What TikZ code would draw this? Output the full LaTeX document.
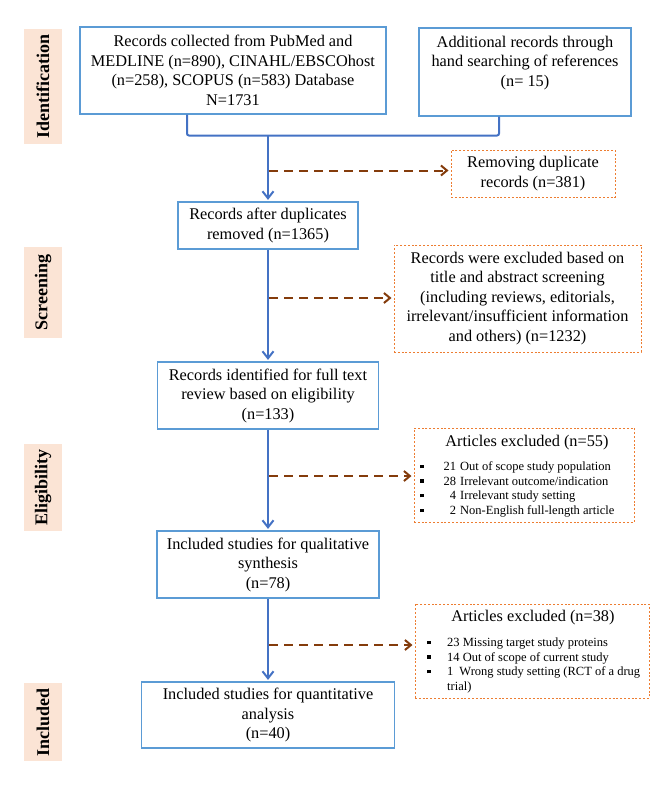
\documentclass[tikz,border=0pt]{standalone}
\usepackage{fontspec}
\setmainfont{Liberation Serif}
\usetikzlibrary{arrows.meta}
\definecolor{boxblue}{HTML}{5B9BD5}
\definecolor{arrblue}{HTML}{4472C4}
\definecolor{dbrown}{HTML}{843C0C}
\definecolor{exorange}{HTML}{ED7D31}
\definecolor{labfill}{HTML}{FBE4D5}
\tikzset{
  mainbox/.style={draw=boxblue, line width=1.2pt, fill=white, inner sep=0pt, align=center, font=\fontsize{16.3}{19.5}\selectfont},
  exbox/.style={draw=exorange, line width=1pt, dash pattern=on 2pt off 1.8pt, fill=white, inner sep=0pt, align=center, font=\fontsize{16.3}{19.5}\selectfont},
  phase/.style={fill=labfill, minimum height=38pt, inner sep=0pt, rotate=90, font=\bfseries\fontsize{18}{20}\selectfont},
  flow/.style={draw=arrblue, line width=2pt, -{Straight Barb[length=7pt,width=11pt]}, shorten >=1.5pt},
  joinline/.style={draw=arrblue, line width=2pt},
  branch/.style={draw=dbrown, line width=2pt, dash pattern=on 9pt off 6pt, -{Straight Barb[length=6pt,width=10pt]}, shorten >=2pt},
  txt/.style={inner sep=0pt, align=center, font=\fontsize{16.3}{19.5}\selectfont},
  listtxt/.style={inner sep=0pt, align=left, font=\fontsize{12.5}{14.6}\selectfont}
}
\newcommand{\sqbul}{\raisebox{2.2pt}{\rule{3.5pt}{3.5pt}}}
\begin{document}
\begin{tikzpicture}[x=1pt,y=-1pt]
\useasboundingbox (0,0) rectangle (667,787);
% phase labels
\node[phase, minimum width=115pt] (lab1) at (43,86.5) {Identification};
\node[phase, minimum width=91pt] (lab2) at (43,292.5) {Screening};
\node[phase, minimum width=87pt] (lab3) at (43,487.5) {Eligibility};
\node[phase, minimum width=78pt] (lab4) at (43,722) {Included};
% main boxes
\node[mainbox, minimum width=306pt, minimum height=87pt] (b1) at (233,70.5)
  {Records collected from PubMed and\\MEDLINE (n=890), CINAHL/EBSCOhost\\(n=258), SCOPUS (n=583) Database\\N=1731};
\node[mainbox, minimum width=212pt, minimum height=88pt] (b2) at (525,72) {};
\node[txt, anchor=north] (b2t) at (525,35.5)
  {Additional records through\\hand searching of references\\(n= 15)};
\node[mainbox, minimum width=180pt, minimum height=47pt] (b3) at (268,225.5)
  {Records after duplicates\\removed (n=1365)};
\node[mainbox, minimum width=221pt, minimum height=67pt] (b4) at (268,395.5)
  {Records identified for full text\\review based on eligibility\\(n=133)};
\node[mainbox, minimum width=222pt, minimum height=67pt] (b5) at (268,564.5)
  {Included studies for qualitative\\synthesis\\(n=78)};
\node[mainbox, minimum width=253pt, minimum height=66pt] (b6) at (268,715)
  {Included studies for quantitative\\analysis\\(n=40)};
% exclusion boxes
\node[exbox, minimum width=164pt, minimum height=47pt] (rem) at (533,173.5)
  {Removing duplicate\\records (n=381)};
\node[exbox, minimum width=247pt, minimum height=107pt] (exc) at (517.5,298.5)
  {Records were excluded based on\\title and abstract screening\\(including reviews, editorials,\\irrelevant/insufficient information\\and others) (n=1232)};
\node[exbox, minimum width=220pt, minimum height=94pt] (ex55) at (524,475) {};
\node[txt] (ex55t) at (527,443) {Articles excluded (n=55)};
\node[listtxt, anchor=north west] (ex55l) at (420,460)
  {\begin{tabular}{@{}l@{\hspace{20pt}}r@{\hspace{4pt}}l@{}}
   \sqbul & 21 & Out of scope study population\\
   \sqbul & 28 & Irrelevant outcome/indication\\
   \sqbul & 4 & Irrelevant study setting\\
   \sqbul & 2 & Non-English full-length article
   \end{tabular}};
\node[exbox, minimum width=234pt, minimum height=94pt] (ex38) at (532,651) {};
\node[txt] (ex38t) at (533,618) {Articles excluded (n=38)};
\node[listtxt, anchor=north west] (ex38l) at (427,636)
  {\begin{tabular}{@{}l@{\hspace{16.5pt}}l@{}}
   \sqbul & 23 Missing target study proteins\\
   \sqbul & 14 Out of scope of current study\\
   \sqbul & 1\hspace{6pt}Wrong study setting (RCT of a drug\\
          & trial)
   \end{tabular}};
% join of the two sources
\coordinate (jl) at (187,135.5);
\coordinate (jr) at (499,135.5);
\coordinate (jm) at (268,135.5);
\draw[joinline, rounded corners=2pt] (jl |- b1.south) -- (jl) -- (jr) -- (jr |- b2.south);
% main flow
\draw[flow] (jm) -- (b3.north);
\draw[flow] (b3.south) -- (b4.north);
\draw[flow] (b4.south) -- (b5.north);
\draw[flow] (b5.south) -- (b6.north);
% branches
\coordinate (s1) at (269,170.5);
\coordinate (s2) at (269,298);
\coordinate (s3) at (269,476);
\coordinate (s4) at (269,645);
\draw[branch] (s1) -- (s1 -| rem.west);
\draw[branch] (s2) -- (s2 -| exc.west);
\draw[branch] (s3) -- (s3 -| ex55.west);
\draw[branch] (s4) -- (s4 -| ex38.west);
\end{tikzpicture}
\end{document}
